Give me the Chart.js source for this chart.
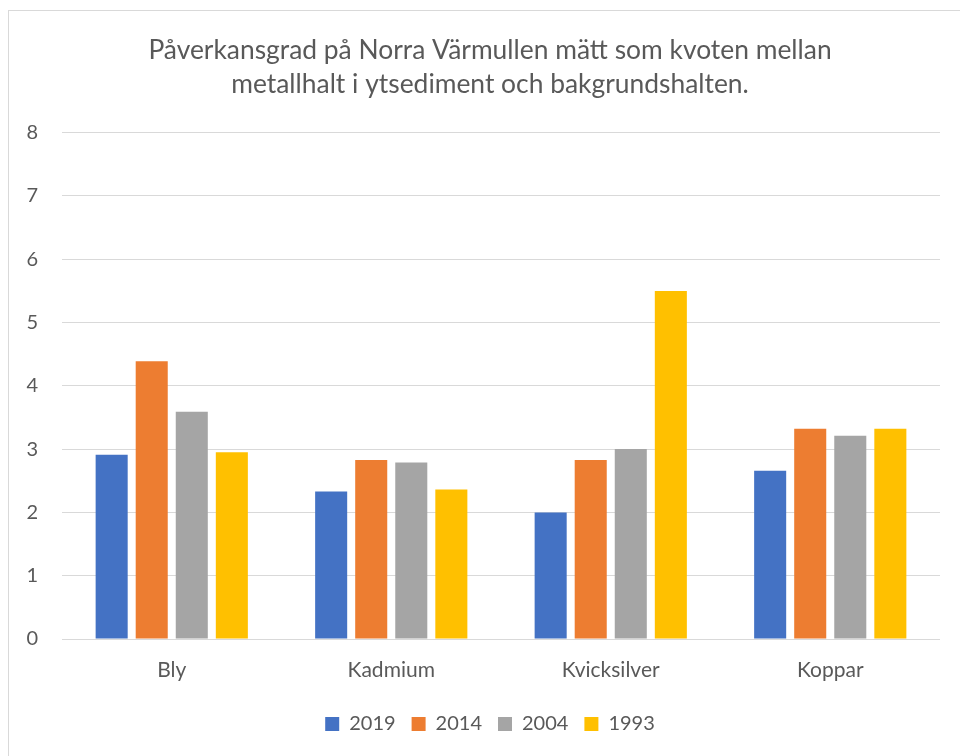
<!DOCTYPE html>
<html>
<head>
<meta charset="utf-8">
<script src="https://cdn.jsdelivr.net/npm/chart.js@4/dist/chart.umd.min.js"></script>
<style>
    body { margin: 0; background: #ffffff; overflow: hidden; }
    #frame {
        position: absolute; left: 8px; top: 10px;
        width: 970px; height: 746px;
        border-left: 1px solid #d9d9d9; border-top: 1px solid #d9d9d9;
    }
</style>
</head>
<body>
<div id="frame"><canvas id="chart" width="962" height="745"></canvas></div>
<script>
const categories = ['Bly', 'Kadmium', 'Kvicksilver', 'Koppar'];
const years = ['2019', '2014', '2004', '1993'];
const values2019 = [2.91, 2.33, 2.0, 2.66];
const values2014 = [4.39, 2.83, 2.83, 3.32];
const values2004 = [3.59, 2.79, 3.0, 3.21];
const values1993 = [2.95, 2.36, 5.5, 3.32];
const yTicks = [0, 1, 2, 3, 4, 5, 6, 7, 8];
const colors = ['#4472c4', '#ed7d31', '#a5a5a5', '#ffc000'];
const titleLines = [
    'Påverkansgrad på Norra Värmullen mätt som kvoten mellan',
    'metallhalt i ytsediment och bakgrundshalten.'
];

const textColor = '#595959';
const gridColor = '#d9d9d9';
const fontFamily = 'Lato, "Open Sans", sans-serif';

const seriesValues = [values2019, values2014, values2004, values1993];

new Chart(document.getElementById('chart'), {
    type: 'bar',
    data: {
        labels: categories,
        datasets: years.map((year, i) => ({
            label: year,
            data: seriesValues[i],
            backgroundColor: colors[i],
            borderWidth: 0,
            categoryPercentage: 0.73,
            barPercentage: 0.8
        }))
    },
    options: {
        responsive: false,
        animation: false,
        layout: { padding: { top: 0, right: 0, bottom: 12, left: 0 } },
        plugins: {
            title: {
                display: true,
                text: titleLines,
                color: textColor,
                font: { family: fontFamily, size: 26.4, weight: 'normal', lineHeight: 1.3 },
                padding: { top: 22, bottom: 31 }
            },
            legend: {
                position: 'bottom',
                labels: {
                    color: textColor,
                    boxWidth: 14,
                    boxHeight: 14,
                    padding: 16,
                    font: { family: fontFamily, size: 20 }
                }
            },
            tooltip: { enabled: false }
        },
        scales: {
            x: {
                afterFit: axis => { axis.height = 59; },
                grid: { display: false },
                border: { display: false },
                ticks: {
                    color: textColor,
                    padding: 11,
                    font: { family: fontFamily, size: 21 }
                }
            },
            y: {
                min: 0,
                max: 8,
                afterFit: axis => { axis.width = 53; },
                afterBuildTicks: axis => { axis.ticks = yTicks.map(v => ({ value: v })); },
                grid: { color: gridColor, lineWidth: 1, drawTicks: false },
                border: { display: false },
                ticks: {
                    color: textColor,
                    padding: 24,
                    font: { family: fontFamily, size: 20 }
                }
            },
            // empty right-hand axis: keeps the plot's right edge where the picture has it
            spacer: {
                type: 'linear',
                position: 'right',
                afterFit: axis => { axis.width = 31; },
                grid: { display: false },
                border: { display: false },
                ticks: { display: false }
            }
        }
    }
});
</script>
</body>
</html>
